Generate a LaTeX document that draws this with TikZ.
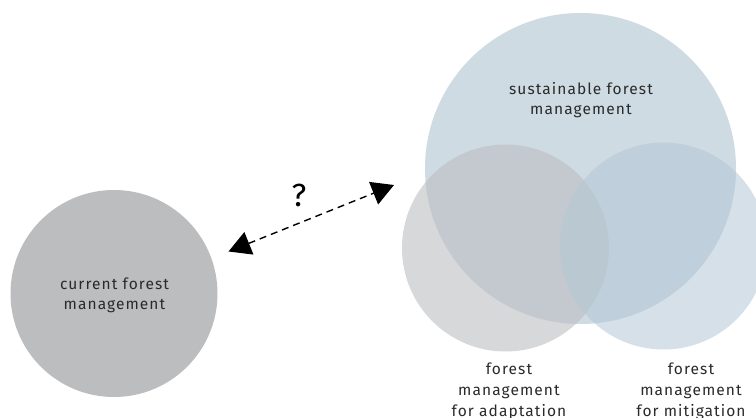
\documentclass[tikz,border=0pt]{standalone}
\usepackage{fontspec}
\setmainfont{Fira Sans}
\newfontfamily\lblfont[LetterSpace=7]{Fira Sans}
\usetikzlibrary{arrows.meta}
\definecolor{curgray}{HTML}{BCBDBF}
\definecolor{sfmblue}{HTML}{CEDBE3}
\definecolor{adagray}{HTML}{BDBEC0}
\definecolor{mitblue}{HTML}{B4C8D7}
\definecolor{txt}{HTML}{2A2A2A}
\tikzset{
  disc/.style={circle, inner sep=0pt, draw=none},
  lbl/.style={align=center, text=txt, inner sep=0pt, font=\lblfont\fontsize{15.5}{21}\selectfont},
  lbltwo/.style={lbl, font=\lblfont\fontsize{15.5}{20}\selectfont},
  qarrow/.style={line width=1.4pt, dash pattern=on 7pt off 5pt,
    {Triangle[length=22pt,width=24pt]}-{Triangle[length=22pt,width=24pt]}}
}
\begin{document}
\begin{tikzpicture}[x=1pt,y=-1pt]
\fill[white] (0,0) rectangle (756,418);
\useasboundingbox (0,0) rectangle (756,418);
% current
\node[disc, fill=curgray, minimum size=207pt] (cur) at (114,293.5) {};
\node[lbltwo] (curlab) at (114.5,295) {current forest\\management};
% sustainable
\node[disc, fill=sfmblue, minimum size=311pt] (sfm) at (580.5,168.5) {};
\node[lbltwo] (sfmlab) at (581,100) {sustainable forest\\management};
% adaptation
\node[disc, fill=adagray, fill opacity=0.6, minimum size=207pt] (ada) at (505.5,248) {};
% mitigation
\node[disc, fill=mitblue, fill opacity=0.55, minimum size=207pt] (mit) at (663.5,246) {};
\node[lbl] (adalab) at (509,391) {forest\\management\\for adaptation};
\node[lbl] (mitlab) at (691,391) {forest\\management\\for mitigation};
% arrow
\coordinate (a1) at (228.5,251.5);
\coordinate (a2) at (394,185);
\draw[qarrow] (a1) -- (a2);
\node[text=black, inner sep=0pt, font=\fontsize{32}{32}\selectfont] (q) at (299,195) {?};
\end{tikzpicture}
\end{document}
